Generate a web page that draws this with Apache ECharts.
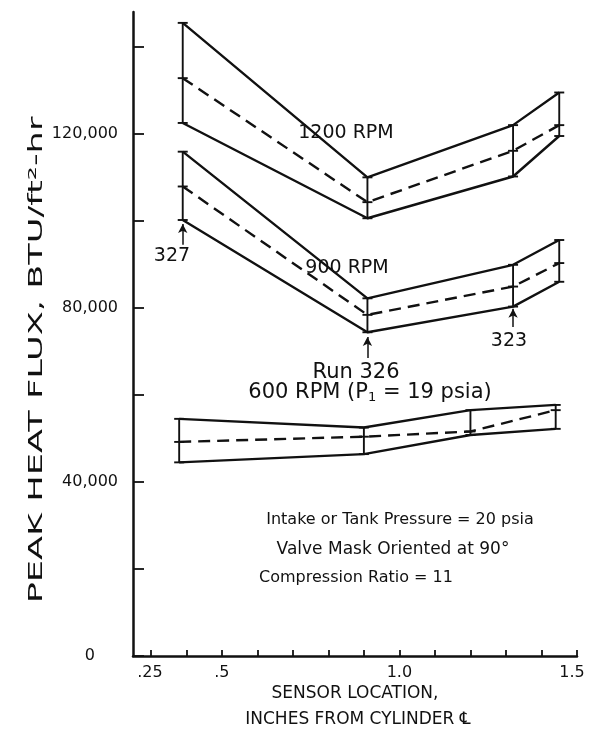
<!DOCTYPE html>
<html><head><meta charset="utf-8">
<script src="https://cdn.jsdelivr.net/npm/echarts@6/dist/echarts.min.js"></script>
<style>html,body{margin:0;padding:0;background:#fff}#c{width:600px;height:740px}</style>
</head><body><div id="c"></div>
<script>
// ---- data ----
const xs1200 = [0.39, 0.91, 1.32, 1.45];
const hi1200 = [145500, 110000, 122000, 129500];
const mean1200 = [132800, 104300, 116100, 122000];
const lo1200 = [122500, 100600, 110200, 119500];

const xs900 = [0.39, 0.91, 1.32, 1.45];
const hi900 = [115900, 82200, 89900, 95600];
const mean900 = [107900, 78400, 84900, 90300];
const lo900 = [100200, 74400, 80300, 86000];

const xs600 = [0.38, 0.90, 1.20, 1.44];
const hi600 = [54500, 52500, 56500, 57700];
const mean600 = [49200, 50400, 51600, 56500];
const lo600 = [44500, 46400, 50800, 52200];

const xTickValues = [0.3, 0.4, 0.5, 0.6, 0.7, 0.8, 0.9, 1.0, 1.1, 1.2, 1.3, 1.4, 1.5];
const xLabelValues = [0.25, 0.5, 1.0, 1.5];
const xLabelTexts = ['.25', '.5', '1.0', '1.5'];
const yTickValues = [0, 20000, 40000, 60000, 80000, 100000, 120000, 140000];
const yLabelValues = [0, 40000, 80000, 120000];
const yLabelTexts = ['0', '40,000', '80,000', '120,000'];

// run-number arrows: [x, from y, to y]
const arrowRuns = [[0.39, 94500, 99300], [1.32, 75600, 79800], [0.91, 68500, 73300]];

const FONT = 'DejaVu Sans';
const INK = '#111';

function pairs(xs, ys) { return xs.map((x, i) => [x, ys[i]]); }
function bars(xs, lo, mean, hi) { return xs.map((x, i) => [x, lo[i], mean[i], hi[i]]); }

function lineSeries(xs, ys, dashed) {
  return {
    type: 'line', data: pairs(xs, ys), symbol: 'none', silent: true,
    lineStyle: { color: INK, width: 2.4, type: dashed ? [12, 7] : 'solid' },
    z: 3
  };
}
function barSeries(data) {
  return {
    type: 'custom', silent: true, z: 4,
    data: data,
    renderItem: function (params, api) {
      const x = api.value(0);
      const pLo = api.coord([x, api.value(1)]);
      const pMe = api.coord([x, api.value(2)]);
      const pHi = api.coord([x, api.value(3)]);
      const w = 5;
      const st = { stroke: INK, lineWidth: 1.9 };
      return {
        type: 'group', children: [
          { type: 'line', shape: { x1: pLo[0], y1: pLo[1], x2: pHi[0], y2: pHi[1] }, style: st },
          { type: 'line', shape: { x1: pLo[0] - w, y1: pLo[1], x2: pLo[0] + w, y2: pLo[1] }, style: st },
          { type: 'line', shape: { x1: pMe[0] - w, y1: pMe[1], x2: pMe[0] + w, y2: pMe[1] }, style: st },
          { type: 'line', shape: { x1: pHi[0] - w, y1: pHi[1], x2: pHi[0] + w, y2: pHi[1] }, style: st }
        ]
      };
    }
  };
}

function txt(text, x, y, size, align) {
  return { type: 'text', x: x, y: y, silent: true,
    style: { text: text, fill: INK, font: size + 'px "' + FONT + '"', textAlign: align || 'center', textVerticalAlign: 'middle' } };
}

const chart = echarts.init(document.getElementById('c'), null, { renderer: 'canvas' });
chart.setOption({
  animation: false,
  backgroundColor: '#fff',
  grid: { left: 133, right: 23, top: 12, bottom: 84, containLabel: false },
  xAxis: {
    type: 'value', min: 0.25, max: 1.5,
    axisLine: { show: true, onZero: false, lineStyle: { color: INK, width: 2.5 } },
    axisTick: { show: true, inside: true, length: 6, customValues: xTickValues, lineStyle: { color: INK, width: 1.8 } },
    axisLabel: { show: true, customValues: xLabelValues, margin: 9,
      formatter: v => {
        const i = xLabelValues.findIndex(t => Math.abs(t - v) < 1e-6);
        if (i < 0) return '';
        if (i === 0) return '{first|' + xLabelTexts[i] + '}';
        if (i === xLabelTexts.length - 1) return '{last|' + xLabelTexts[i] + '}';
        return xLabelTexts[i];
      },
      rich: {
        first: { padding: [0, 0, 0, 34], fontSize: 16, fontFamily: FONT, color: INK },
        last: { padding: [0, 10, 0, 0], fontSize: 16, fontFamily: FONT, color: INK }
      },
      color: INK, fontFamily: FONT, fontSize: 16 },
    splitLine: { show: false }
  },
  yAxis: {
    type: 'value', min: 0, max: 148000,
    axisLine: { show: true, lineStyle: { color: INK, width: 2.5 } },
    axisTick: { show: true, inside: true, length: 11, customValues: yTickValues, lineStyle: { color: INK, width: 1.8 } },
    axisLabel: { show: true, customValues: yLabelValues, margin: 15,
      formatter: v => {
        const i = yLabelValues.findIndex(t => Math.abs(t - v) < 1e-6);
        if (i < 0) return '';
        return i === 0 ? '{zero|' + yLabelTexts[i] + '}' : yLabelTexts[i];
      },
      rich: { zero: { padding: [0, 23, 0, 0], fontSize: 16, fontFamily: FONT, color: INK } },
      color: INK, fontFamily: FONT, fontSize: 16 },
    splitLine: { show: false }
  },
  series: [
    lineSeries(xs1200, hi1200, false), lineSeries(xs1200, mean1200, true), lineSeries(xs1200, lo1200, false),
    barSeries(bars(xs1200, lo1200, mean1200, hi1200)),
    lineSeries(xs900, hi900, false), lineSeries(xs900, mean900, true), lineSeries(xs900, lo900, false),
    barSeries(bars(xs900, lo900, mean900, hi900)),
    lineSeries(xs600, hi600, false), lineSeries(xs600, mean600, true), lineSeries(xs600, lo600, false),
    barSeries(bars(xs600, lo600, mean600, hi600)),
    {
      type: 'line', data: [], silent: true,
      markLine: {
        silent: true, symbol: ['none', 'arrow'], symbolSize: [7, 9],
        lineStyle: { color: INK, width: 1.5, type: 'solid' }, label: { show: false },
        data: arrowRuns.map(a => [{ coord: [a[0], a[1]] }, { coord: [a[0], a[2]] }])
      }
    }
  ],
  graphic: [
    txt('1200 RPM', 346, 133, 19),
    txt('900 RPM', 347, 268, 19),
    txt('327', 172, 256, 19),
    txt('323', 509, 341, 19),
    txt('Run 326', 356, 373, 21),
    { type: 'text', x: 370, y: 393, silent: true,
      style: { text: '600 RPM (P{s|1} = 19 psia)', fill: INK, font: '21px "' + FONT + '"', textAlign: 'center', textVerticalAlign: 'middle',
        rich: { s: { fontSize: 13, fontFamily: FONT, verticalAlign: 'bottom', padding: [10, 0, 0, 0] } } } },
    txt('Intake or Tank Pressure = 20 psia', 400, 520, 16),
    txt('Valve Mask Oriented at 90°', 393, 550, 17),
    txt('Compression Ratio = 11', 356, 578, 16),
    txt('SENSOR LOCATION,', 355, 694, 17),
    txt('INCHES FROM CYLINDER ℄', 358, 720, 17),
    { type: 'text', x: 37, y: 360, rotation: Math.PI / 2, scaleX: 1.85, silent: true,
      style: { text: 'PEAK HEAT FLUX, BTU/ft²-hr', fill: INK, font: '19px "' + FONT + '"', textAlign: 'center', textVerticalAlign: 'middle' } }
  ]
});
</script></body></html>
